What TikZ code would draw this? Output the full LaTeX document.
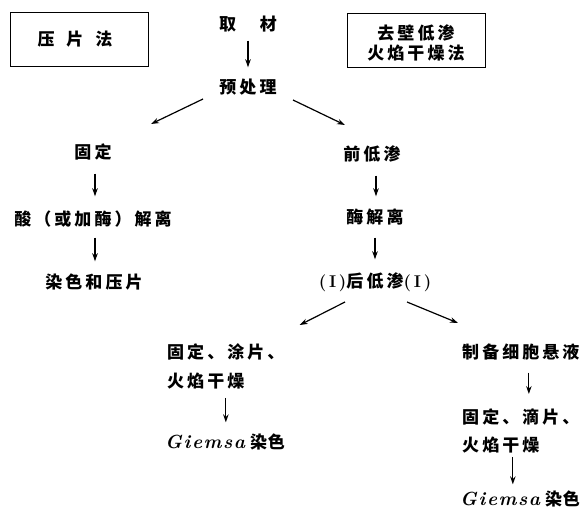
\documentclass[tikz,border=0pt]{standalone}
\usepackage{fontspec}
\usetikzlibrary{arrows.meta,calc}
\newfontfamily\cjk[LetterSpace=18]{Noto Sans CJK SC}
\newfontfamily\cjktight[LetterSpace=4]{Noto Sans CJK SC}
\newfontfamily\gfont[LetterSpace=8]{Latin Modern Roman}
\newcommand{\giem}{{\gfont\bfseries\itshape\fontsize{19}{22}\selectfont Giemsa}}
\newcommand{\rI}{{\rmfamily\bfseries\fontsize{17}{20}\selectfont(\,I\,)}}
\tikzset{
  lbl/.style={inner sep=0pt, text height=14pt, text depth=3pt, font=\fontsize{17}{29}\selectfont\cjk\bfseries},
  arr/.style={-{Stealth[length=8pt,width=5.5pt]}, line width=1.2pt},
  frame/.style={draw, line width=1pt}
}
\begin{document}
\begin{tikzpicture}[x=1pt,y=-1pt]
\useasboundingbox (0,0) rectangle (588,518);
% boxes
\node[frame, minimum width=138pt, minimum height=54pt, inner sep=0pt] (box1) at (79,40) {};
\node[lbl] (box1t) at (75,40) {压\hspace{12pt}片\hspace{12pt}法};
\node[frame, minimum width=138pt, minimum height=54pt, inner sep=0pt] (box2) at (416,41) {};
\node[lbl, align=center, text height=, text depth=] (box2t) at (416,43) {去壁低渗\\[-9pt]火焰干燥法};
% main column
\node[lbl] (qucai) at (248,25) {取\hspace{24pt}材};
\node[lbl] (pre) at (248,88) {预处理};
% left branch
\node[lbl] (gu) at (93,153) {固定};
\node[lbl] (suan) at (93,220) {酸（或加酶）解离};
\node[lbl] (ran) at (94,283) {染色和压片};
% right branch
\node[lbl] (qian) at (372,155) {前低渗};
\node[lbl] (mei) at (375,218) {酶解离};
\node[lbl] (hou) at (375,282) {\rI 后低渗\rI};
% lower left
\node[lbl, anchor=north west, align=left, text height=, text depth=] (L1) at (167,344) {固定、涂片、\\火焰干燥};
\node[lbl, anchor=west] (L2) at (165,443) {\giem\hspace{5pt}{\cjktight 染色}};
% lower right
\node[lbl, anchor=west] (R1) at (462,353) {制备细胞悬液};
\node[lbl, anchor=north west, align=left, text height=, text depth=] (R2) at (462,408) {固定、滴片、\\[-1pt]火焰干燥};
\node[lbl, anchor=west] (R3) at (460,500) {\giem\hspace{5pt}{\cjktight 染色}};
% arrows
\draw[arr, shorten <=7pt, shorten >=12pt] (qucai.south) -- (pre.north);
\draw[arr] ($(pre)+(-45,11)$) -- ($(gu)+(58,-29)$);
\draw[arr] ($(pre)+(45,12)$) -- ($(qian)+(-27,-30)$);
\draw[arr, shorten <=12pt, shorten >=15pt] ([xshift=2pt]gu.south) -- ([xshift=2pt]gu.south |- suan.north);
\draw[arr, shorten <=9pt, shorten >=13pt] ([xshift=2pt]suan.south) -- ([xshift=2pt]suan.south |- ran.north);
\draw[arr, shorten <=12pt, shorten >=13pt] ([xshift=4pt]qian.south) -- ([xshift=4pt]qian.south |- mei.north);
\draw[arr, shorten <=11pt, shorten >=14pt] (mei.south) -- (mei.south |- hou.north);
\draw[arr] ($(hou)+(-30,20)$) -- ($(L1.north east)+(15,-19)$);
\draw[arr] ($(hou)+(32,20)$) -- ($(R1.west)+(-4,-30)$);
\draw[arr, shorten <=8pt, shorten >=12pt] (L1.south) -- (L1.south |- L2.north);
\draw[arr, shorten <=11pt, shorten >=14pt] ([xshift=8pt]R1.south) -- ([xshift=8pt]R1.south |- R2.north);
\draw[arr, shorten <=4pt, shorten >=7pt] ([xshift=-8pt]R2.south) -- ([xshift=-8pt]R2.south |- R3.north);
\end{tikzpicture}
\end{document}
